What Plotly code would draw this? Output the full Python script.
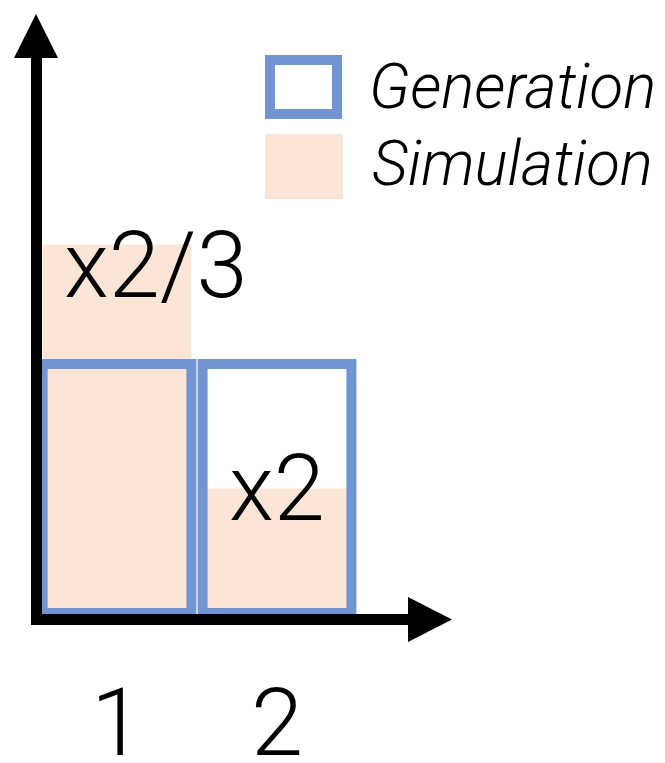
import plotly.graph_objects as go

# ---- data ----
categories = [1, 2]
tick_labels = ["1", "2"]
series_names = ["Generation", "Simulation"]
generation = [1.0, 1.0]
simulation = [1.48, 0.5]
ratio_labels = ["x2/3", "x2"]

# ---- styles ----
BLUE = "#7195D2"
PEACH = "#FBE5D6"
FONT = "Roboto, Lato, 'Liberation Sans', sans-serif"
W, H = 665, 763

# pixel <-> data mapping (plot area spans the whole figure)
X0_PX, X_UNIT = 117.0, 160.0       # category 1 at px 117, 160 px per unit
BASE_PX, Y_UNIT = 613.0, 249.0      # y=0 at px 613, 249 px per unit
x_range = [1 + (0 - X0_PX) / X_UNIT, 1 + (W - X0_PX) / X_UNIT]
y_range = [(BASE_PX - H) / Y_UNIT, BASE_PX / Y_UNIT]


def px(x):
    return x / W


def py(y):
    return 1 - y / H


fig = go.Figure()
fig.add_trace(go.Bar(
    x=categories, y=simulation, name=series_names[1], width=0.93,
    marker=dict(color=PEACH, line=dict(width=0)), showlegend=False,
))
fig.add_trace(go.Bar(
    x=categories, y=generation, name=series_names[0], width=0.93,
    marker=dict(color="rgba(0,0,0,0)", line=dict(color=BLUE, width=10)),
    showlegend=False,
))

shapes = []
# y axis arrow
shapes.append(dict(type="line", xref="paper", yref="paper",
                   x0=px(36.5), x1=px(36.5), y0=py(625), y1=py(56),
                   line=dict(color="black", width=11), layer="above"))
shapes.append(dict(type="path", xref="paper", yref="paper",
                   path=f"M {px(14)},{py(58)} L {px(58)},{py(58)} L {px(36)},{py(14)} Z",
                   fillcolor="black", line=dict(width=0), layer="above"))
# x axis arrow
shapes.append(dict(type="line", xref="paper", yref="paper",
                   x0=px(31), x1=px(410), y0=py(619.5), y1=py(619.5),
                   line=dict(color="black", width=11), layer="above"))
shapes.append(dict(type="path", xref="paper", yref="paper",
                   path=f"M {px(408)},{py(597)} L {px(408)},{py(642)} L {px(452)},{py(619.5)} Z",
                   fillcolor="black", line=dict(width=0), layer="above"))
# legend swatches
shapes.append(dict(type="rect", xref="paper", yref="paper",
                   x0=px(270), x1=px(337), y0=py(60), y1=py(114),
                   fillcolor="white", line=dict(color=BLUE, width=10)))
shapes.append(dict(type="rect", xref="paper", yref="paper",
                   x0=px(265), x1=px(343), y0=py(134), y1=py(199),
                   fillcolor=PEACH, line=dict(width=0)))

annotations = []
# legend labels
for name, yc in zip(series_names, [87, 163]):
    annotations.append(dict(
        text=name, xref="paper", yref="paper", x=px(512), y=py(yc),
        xanchor="center", yanchor="middle", showarrow=False,
        font=dict(family=FONT, size=62, color="black", style="italic", weight=300),
    ))
# ratio labels
annotations.append(dict(
    text=ratio_labels[0], x=categories[0], y=simulation[0], xref="x", yref="y",
    xanchor="left", yanchor="middle", xshift=66 - X0_PX - 4, yshift=-21, showarrow=False,
    font=dict(family=FONT, size=92, color="black", weight=300),
))
annotations.append(dict(
    text=ratio_labels[1], x=categories[1], y=simulation[1], xref="x", yref="y",
    xanchor="center", yanchor="middle", showarrow=False,
    font=dict(family=FONT, size=92, color="black", weight=300),
))
# tick labels
for c, t in zip(categories, tick_labels):
    annotations.append(dict(
        text=t, x=c, xref="x", yref="paper", y=py(723),
        xanchor="center", yanchor="middle", showarrow=False,
        font=dict(family=FONT, size=94, color="black", weight=300),
    ))

fig.update_layout(
    width=W, height=H,
    margin=dict(l=0, r=0, t=0, b=0),
    paper_bgcolor="white", plot_bgcolor="white",
    barmode="overlay",
    xaxis=dict(range=x_range, visible=False, fixedrange=True),
    yaxis=dict(range=y_range, visible=False, fixedrange=True),
    shapes=shapes, annotations=annotations,
    showlegend=False,
)

fig.write_html(
    "out.html",
    config={"displayModeBar": False},
    post_script="document.body.style.margin='0';document.body.style.overflow='hidden';",
)
